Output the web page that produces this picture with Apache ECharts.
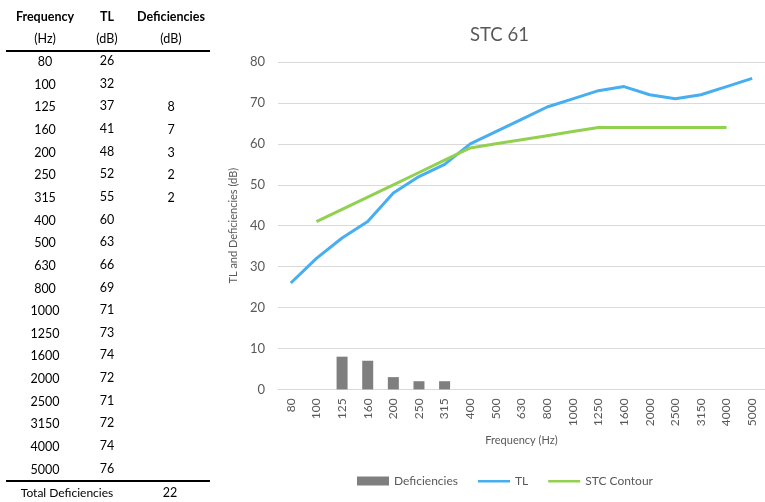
<!DOCTYPE html>
<html>
<head>
<meta charset="utf-8">
<script src="https://cdn.jsdelivr.net/npm/echarts@6/dist/echarts.min.js"></script>
<style>
html,body{margin:0;padding:0;background:#fff;}
#c{width:765px;height:502px;}
</style>
</head>
<body>
<div id="c"></div>
<script>
var frequencies = ['80','100','125','160','200','250','315','400','500','630','800','1000','1250','1600','2000','2500','3150','4000','5000'];
var tlValues = [26,32,37,41,48,52,55,60,63,66,69,71,73,74,72,71,72,74,76];
var deficiencies = [null,null,8,7,3,2,2,null,null,null,null,null,null,null,null,null,null,null,null];
var stcContour = [null,41,44,47,50,53,56,59,60,61,62,63,64,64,64,64,64,64,null];
var totalDeficiencies = 22;
var chartTitle = 'STC 61';

var FONT = 'Lato, "Noto Sans", sans-serif';
var GREY = '#595959';
var LINE_ICON = 'path://M0,0 L0.01,0 Z M0,3.5 L32,3.5 L32,6 L0,6 Z M0,9 L0.01,9 Z';

// table drawn with graphic elements
var g = [];
function txt(x, y, s, size, bold) {
  g.push({type:'text', x:x, y:y, silent:true,
    style:{text:s, fill:'#000', fontSize:size, fontFamily:FONT, fontWeight:bold?'bold':'normal', align:'center', verticalAlign:'middle'}});
}
var colF = 45, colT = 107, colD = 171;
var BODY = 12.5;
txt(colF, 17, 'Frequency', 12.5, true);
txt(colT, 17, 'TL', 12.5, true);
txt(colD, 17, 'Deficiencies', 12.5, true);
txt(colF, 39, '(Hz)', BODY, false);
txt(colT, 39, '(dB)', BODY, false);
txt(colD, 39, '(dB)', BODY, false);
g.push({type:'line', silent:true, shape:{x1:6,y1:51,x2:210,y2:51}, style:{stroke:'#000', lineWidth:2}});
for (var i = 0; i < frequencies.length; i++) {
  var y = 62 + i * 22.65;
  txt(colF, y, frequencies[i], BODY, false);
  txt(colT, y - 1, String(tlValues[i]), BODY, false);
  if (deficiencies[i] != null) txt(colD, y, String(deficiencies[i]), BODY, false);
}
g.push({type:'line', silent:true, shape:{x1:6,y1:481,x2:210,y2:481}, style:{stroke:'#000', lineWidth:2}});
txt(67, 493, 'Total Deficiencies', 12, false);
txt(170, 493, String(totalDeficiencies), BODY, false);

var chart = echarts.init(document.getElementById('c'), null, {renderer:'canvas'});
chart.setOption({
  animation:false,
  textStyle:{fontFamily:FONT},
  title:{text:chartTitle, left:465, top:21, textStyle:{fontSize:18.5, fontWeight:'normal', color:GREY, fontFamily:FONT}},
  grid:{left:278, right:-7, top:62, bottom:112.6},
  legend:{
    left:352, top:470, itemWidth:32, itemHeight:9, itemGap:20,
    textStyle:{fontSize:12, color:GREY, fontFamily:FONT},
    data:[{name:'Deficiencies', icon:'rect'}, {name:'TL', icon:LINE_ICON}, {name:'STC Contour', icon:LINE_ICON}]
  },
  xAxis:[{
    type:'category', data:frequencies, boundaryGap:true,
    axisLine:{show:true, lineStyle:{color:'#d9d9d9', width:1}},
    axisTick:{show:false},
    axisLabel:{rotate:90, interval:0, fontSize:12, color:GREY, margin:9, fontFamily:FONT},
    name:'Frequency (Hz)', nameLocation:'middle', nameGap:46,
    nameTextStyle:{fontSize:11, color:GREY, fontFamily:FONT}
  }],
  yAxis:[{
    type:'value', min:0, max:80, interval:10,
    axisLine:{show:false}, axisTick:{show:false},
    splitLine:{lineStyle:{color:'#d9d9d9', width:1}},
    axisLabel:{fontSize:13, color:GREY, margin:13, fontFamily:FONT},
    name:'TL and Deficiencies (dB)', nameLocation:'middle', nameGap:27,
    nameTextStyle:{fontSize:11, color:GREY, fontFamily:FONT}
  }],
  series:[
    {name:'Deficiencies', type:'bar', data:deficiencies, barWidth:11, itemStyle:{color:'#7f7f7f'}},
    {name:'TL', type:'line', data:tlValues, symbol:'none', lineStyle:{color:'#47aef0', width:3}, itemStyle:{color:'#47aef0'}},
    {name:'STC Contour', type:'line', data:stcContour, symbol:'none', lineStyle:{color:'#92d050', width:3}, itemStyle:{color:'#92d050'}}
  ],
  graphic:g
});
</script>
</body>
</html>
